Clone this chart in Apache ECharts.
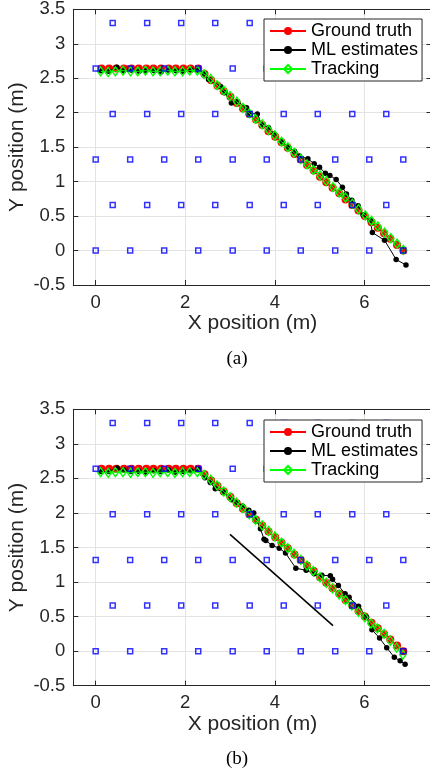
<!DOCTYPE html>
<html>
<head>
<meta charset="utf-8">
<script src="https://cdn.jsdelivr.net/npm/echarts@6/dist/echarts.min.js"></script>
<style>
  html, body { margin: 0; padding: 0; background: #fff; }
  #chart { width: 430px; height: 774px; }
</style>
</head>
<body>
<div id="chart"></div>
<script>
// Anchor grid (blue squares): alternating rows are shifted by half a column
const anchorRowsY = [0, 0.66, 1.32, 1.98, 2.64, 3.30];
const anchorColsEven = [0, 0.77, 1.53, 2.29, 3.06, 3.82, 4.58, 5.35, 6.11, 6.87];
const anchorColsOdd = [0.38, 1.15, 1.91, 2.67, 3.44, 4.20, 4.96, 5.73, 6.49];

// Ground truth walk (same in both panels)
const truthX = [0.13, 0.30, 0.46, 0.63, 0.80, 0.96, 1.13, 1.29, 1.46, 1.63, 1.79, 1.96, 2.12, 2.29,
  2.43, 2.58, 2.72, 2.86, 3.01, 3.15, 3.29, 3.43, 3.58, 3.72, 3.86, 4.01, 4.15, 4.29, 4.44, 4.58,
  4.72, 4.87, 5.01, 5.15, 5.29, 5.44, 5.58, 5.73, 5.87, 6.01, 6.16, 6.30, 6.44, 6.58, 6.73, 6.87];
const truthY = [2.64, 2.64, 2.64, 2.64, 2.64, 2.64, 2.64, 2.64, 2.64, 2.64, 2.64, 2.64, 2.64, 2.64,
  2.56, 2.47, 2.39, 2.31, 2.23, 2.14, 2.06, 1.98, 1.90, 1.82, 1.73, 1.65, 1.57, 1.49, 1.40, 1.32,
  1.24, 1.16, 1.07, 0.99, 0.91, 0.83, 0.74, 0.66, 0.58, 0.50, 0.41, 0.33, 0.25, 0.17, 0.08, 0.00];

// Panel (a)
const mlAX = [0.12, 0.29, 0.47, 0.62, 0.80, 0.97, 1.12, 1.31, 1.46, 1.62, 1.80, 1.95, 2.13, 2.28,
  2.43, 2.52, 2.79, 2.88, 3.03, 3.17, 3.37, 3.45, 3.61, 3.71, 3.86, 3.98, 4.15, 4.30, 4.44, 4.55,
  4.74, 4.88, 5.00, 5.13, 5.23, 5.37, 5.51, 5.60, 5.72, 5.86, 5.97, 6.13, 6.18, 6.45, 6.71, 6.93];
const mlAY = [2.61, 2.60, 2.66, 2.61, 2.62, 2.60, 2.61, 2.61, 2.59, 2.62, 2.61, 2.60, 2.62, 2.62,
  2.57, 2.48, 2.38, 2.29, 2.14, 2.16, 2.07, 1.99, 1.98, 1.82, 1.78, 1.69, 1.58, 1.50, 1.44, 1.37,
  1.33, 1.26, 1.21, 1.12, 1.09, 1.03, 0.92, 0.82, 0.73, 0.65, 0.52, 0.44, 0.26, 0.15, -0.13, -0.21];
const trackAX = [0.11, 0.28, 0.44, 0.61, 0.78, 0.94, 1.11, 1.28, 1.44, 1.61, 1.77, 1.94, 2.10, 2.27,
  2.42, 2.57, 2.71, 2.86, 3.00, 3.15, 3.29, 3.43, 3.57, 3.72, 3.86, 4.00, 4.15, 4.29, 4.43, 4.58,
  4.72, 4.86, 5.01, 5.15, 5.30, 5.44, 5.58, 5.73, 5.87, 6.02, 6.16, 6.30, 6.45, 6.59, 6.73, 6.87];
const trackAY = [2.60, 2.59, 2.60, 2.61, 2.60, 2.60, 2.61, 2.60, 2.60, 2.61, 2.60, 2.60, 2.61, 2.61,
  2.56, 2.49, 2.40, 2.32, 2.24, 2.16, 2.07, 1.99, 1.91, 1.83, 1.75, 1.67, 1.58, 1.50, 1.42, 1.33,
  1.25, 1.17, 1.09, 1.01, 0.92, 0.84, 0.77, 0.68, 0.60, 0.51, 0.43, 0.35, 0.26, 0.18, 0.10, 0.01];

// Panel (b)
const mlBX = [0.12, 0.29, 0.48, 0.63, 0.79, 0.97, 1.13, 1.30, 1.45, 1.63, 1.79, 1.96, 2.12, 2.29,
  2.44, 2.56, 2.67, 2.85, 3.04, 3.16, 3.28, 3.42, 3.53, 3.68, 3.76, 3.80, 3.94, 4.10, 4.24, 4.47,
  4.70, 4.88, 5.05, 5.24, 5.29, 5.42, 5.57, 5.66, 5.87, 6.05, 6.17, 6.34, 6.50, 6.67, 6.80, 6.91];
const mlBY = [2.60, 2.60, 2.65, 2.62, 2.60, 2.60, 2.59, 2.61, 2.60, 2.62, 2.59, 2.60, 2.61, 2.63,
  2.51, 2.44, 2.35, 2.30, 2.19, 2.15, 2.10, 2.04, 2.00, 1.77, 1.62, 1.60, 1.53, 1.49, 1.42, 1.20,
  1.17, 1.12, 1.10, 1.09, 1.04, 0.95, 0.83, 0.78, 0.65, 0.49, 0.31, 0.19, 0.05, -0.09, -0.14, -0.19];
const trackBX = [0.11, 0.28, 0.44, 0.61, 0.78, 0.94, 1.11, 1.28, 1.44, 1.61, 1.77, 1.94, 2.10, 2.27,
  2.42, 2.57, 2.71, 2.86, 3.00, 3.14, 3.29, 3.43, 3.57, 3.72, 3.86, 4.00, 4.15, 4.29, 4.43, 4.58,
  4.72, 4.86, 5.01, 5.15, 5.29, 5.44, 5.58, 5.72, 5.87, 6.01, 6.15, 6.29, 6.44, 6.58, 6.72, 6.86];
const trackBY = [2.59, 2.58, 2.59, 2.59, 2.58, 2.59, 2.59, 2.58, 2.59, 2.59, 2.58, 2.59, 2.59, 2.59,
  2.55, 2.48, 2.40, 2.31, 2.23, 2.15, 2.07, 1.98, 1.90, 1.82, 1.74, 1.66, 1.57, 1.49, 1.41, 1.32,
  1.24, 1.16, 1.07, 0.99, 0.91, 0.82, 0.74, 0.66, 0.57, 0.49, 0.40, 0.33, 0.25, 0.15, 0.05, -0.05];
// Straight reference segment in panel (b)
const refBX = [3.00, 5.30];
const refBY = [1.69, 0.37];

// Axis ticks
const xTicks = [0, 2, 4, 6];
const xRange = [-0.5, 7.5];
const yRange = [-0.5, 3.5];
const yStep = 0.5;
const legendNames = ['Ground truth', 'ML estimates', 'Tracking'];
const captions = ['(a)', '(b)'];

const AXIS_COLOR = '#262626';
const GRID_COLOR = '#e3e3e3';
const FONT = '"Liberation Sans", Arial, Helvetica, sans-serif';

function pairs(xs, ys) { return xs.map((x, i) => [x, ys[i]]); }

const anchors = [];
anchorRowsY.forEach((y, r) => {
  (r % 2 === 0 ? anchorColsEven : anchorColsOdd).forEach(x => anchors.push([x, y]));
});

const panels = [
  { top: 9.3, height: 275.7, legendTop: 19, captionY: 359, ml: pairs(mlAX, mlAY), track: pairs(trackAX, trackAY), ref: null },
  { top: 409.3, height: 276.4, legendTop: 420, captionY: 759, ml: pairs(mlBX, mlBY), track: pairs(trackBX, trackBY), ref: pairs(refBX, refBY) }
];

const grid = [], xAxis = [], yAxis = [], series = [], legend = [], graphic = [];

panels.forEach((p, i) => {
  // the right frame edge sits just past the canvas edge
  grid.push({ left: 73.3, top: p.top, right: -1.5, height: p.height, containLabel: false, outerBoundsMode: 'none' });

  const tickStyle = { show: true, inside: true, length: 5, lineStyle: { color: AXIS_COLOR, width: 1 } };
  const lineStyle = { show: true, onZero: false, lineStyle: { color: AXIS_COLOR, width: 1 } };

  xAxis.push({
    gridIndex: i, type: 'value', position: 'bottom', min: xRange[0], max: xRange[1],
    name: 'X position (m)', nameLocation: 'middle', nameGap: 26,
    nameTextStyle: { fontSize: 21, color: AXIS_COLOR, fontFamily: FONT },
    axisLine: lineStyle,
    axisTick: Object.assign({ customValues: xTicks }, tickStyle),
    axisLabel: { customValues: xTicks, margin: 8, fontSize: 18.5, color: AXIS_COLOR, fontFamily: FONT },
    splitLine: { show: true, lineStyle: { color: GRID_COLOR, width: 1 } }
  });
  xAxis.push({
    gridIndex: i, type: 'value', position: 'top', min: xRange[0], max: xRange[1],
    axisLine: lineStyle,
    axisTick: Object.assign({ customValues: xTicks }, tickStyle),
    axisLabel: { show: false }, splitLine: { show: false }
  });
  yAxis.push({
    gridIndex: i, type: 'value', position: 'left', min: yRange[0], max: yRange[1], interval: yStep,
    name: 'Y position (m)', nameLocation: 'middle', nameGap: 46, nameMoveOverlap: false,
    nameTextStyle: { fontSize: 21, color: AXIS_COLOR, fontFamily: FONT },
    axisLine: lineStyle, axisTick: tickStyle,
    axisLabel: { margin: 8, fontSize: 18.5, color: AXIS_COLOR, fontFamily: FONT },
    splitLine: { show: true, lineStyle: { color: GRID_COLOR, width: 1 } }
  });
  yAxis.push({
    gridIndex: i, type: 'value', position: 'right', min: yRange[0], max: yRange[1], interval: yStep,
    axisLine: lineStyle, axisTick: tickStyle,
    axisLabel: { show: false }, splitLine: { show: false }
  });

  const ax = { xAxisIndex: 2 * i, yAxisIndex: 2 * i };
  series.push(Object.assign({
    name: 'Ground truth', type: 'line', data: pairs(truthX, truthY),
    symbol: 'circle', symbolSize: 8, showAllSymbol: true,
    itemStyle: { color: '#ff0000' }, lineStyle: { color: '#ff0000', width: 1 }, z: 2
  }, ax));
  series.push(Object.assign({
    name: 'ML estimates', type: 'line', data: p.ml,
    symbol: 'circle', symbolSize: 5.5, showAllSymbol: true,
    itemStyle: { color: '#000000' }, lineStyle: { color: '#000000', width: 1 }, z: 3
  }, ax));
  if (p.ref) {
    series.push(Object.assign({
      name: 'ref', type: 'line', data: p.ref, symbol: 'none',
      lineStyle: { color: '#000000', width: 1.5 }, z: 3
    }, ax));
  }
  series.push(Object.assign({
    name: 'Tracking', type: 'line', data: p.track,
    symbol: 'diamond', symbolSize: [6.5, 9], showAllSymbol: true,
    itemStyle: { color: 'rgba(0,0,0,0)', borderColor: '#00ff00', borderWidth: 1.4 },
    lineStyle: { color: '#00ff00', width: 1 }, z: 4
  }, ax));
  series.push(Object.assign({
    name: 'anchors', type: 'scatter', data: anchors,
    symbol: 'rect', symbolSize: 5,
    itemStyle: { color: 'rgba(0,0,0,0)', borderColor: '#0000ff', borderWidth: 1.5 }, z: 5
  }, ax));

  legend.push({
    orient: 'vertical', left: 264, top: p.legendTop, data: legendNames,
    itemWidth: 36, itemHeight: 10, itemGap: 1, padding: [3, 4, 3, 5],
    backgroundColor: '#ffffff', borderColor: AXIS_COLOR, borderWidth: 1, borderRadius: 0,
    textStyle: { fontSize: 18, color: '#000000', fontFamily: FONT },
    selectedMode: false, z: 10
  });

  graphic.push({
    type: 'text', x: 237, y: p.captionY,
    style: { text: captions[i], textAlign: 'center', textVerticalAlign: 'middle',
      font: '19px "Liberation Serif", "Times New Roman", serif', fill: '#000' }
  });
});

const chart = echarts.init(document.getElementById('chart'), null, { renderer: 'canvas' });
chart.setOption({
  animation: false,
  backgroundColor: '#ffffff',
  grid, xAxis, yAxis, series, legend, graphic
});
</script>
</body>
</html>
